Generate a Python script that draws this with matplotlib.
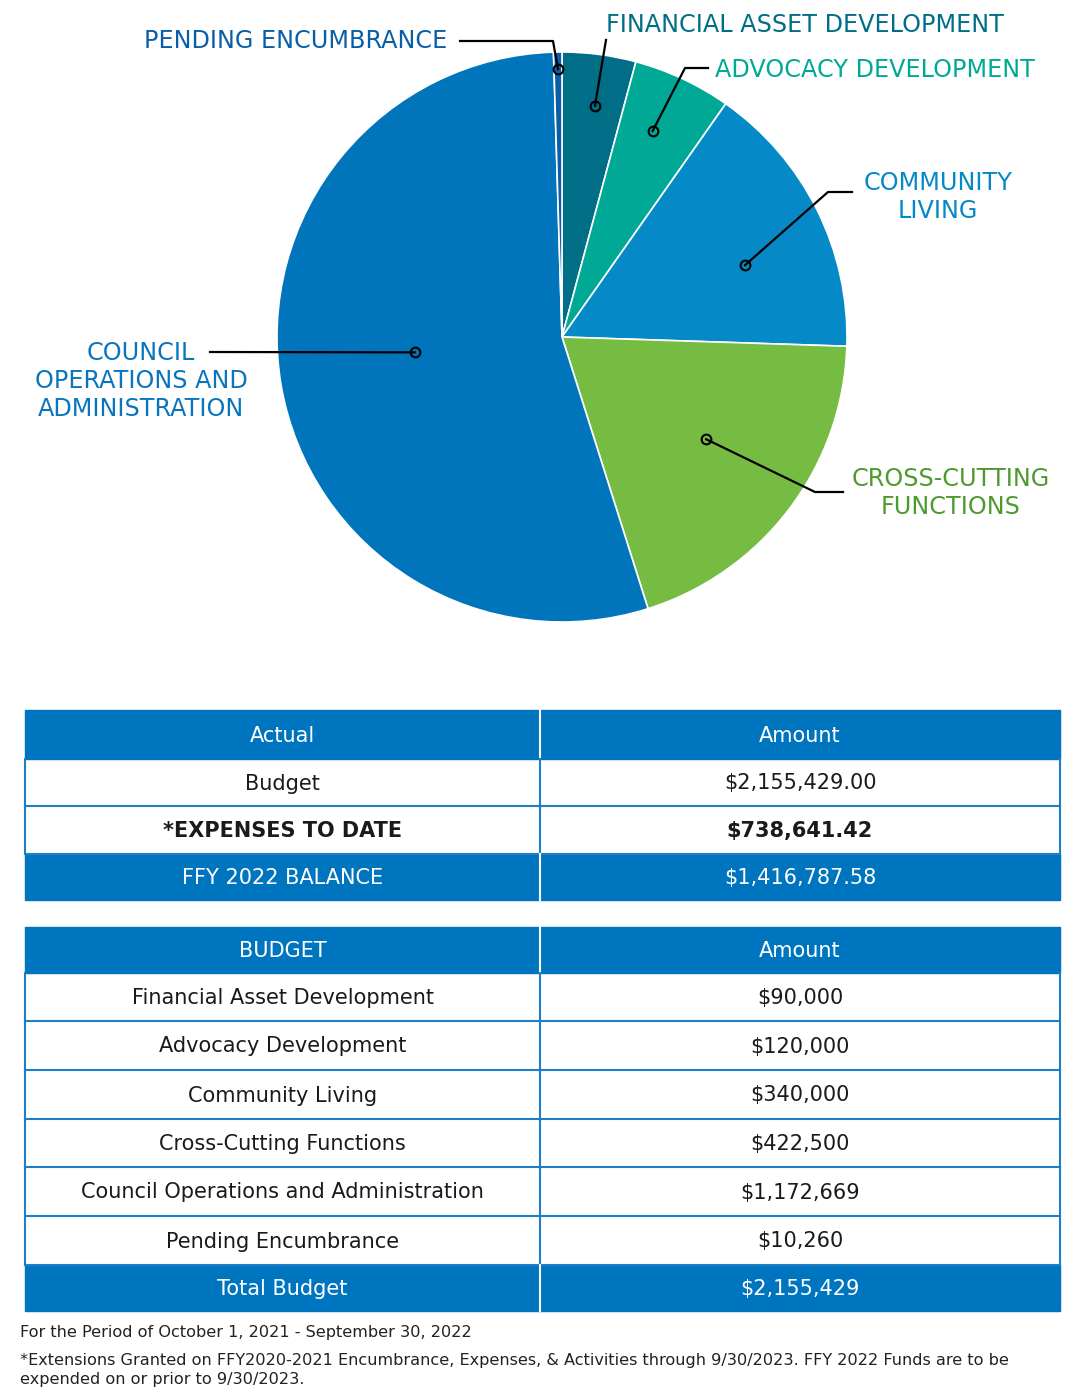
import numpy as np
import matplotlib.pyplot as plt
from matplotlib.patches import Rectangle

## data

categories = ['Financial Asset Development', 'Advocacy Development', 'Community Living',
              'Cross-Cutting Functions', 'Council Operations and Administration',
              'Pending Encumbrance']
amounts = [90000, 120000, 340000, 422500, 1172669, 10260]
slice_colors = ['#006e87', '#00a995', '#0589c7', '#76bc43', '#0075bc', '#0a5ea8']

pie_labels = ['FINANCIAL ASSET DEVELOPMENT', 'ADVOCACY DEVELOPMENT', 'COMMUNITY\nLIVING',
              'CROSS-CUTTING\nFUNCTIONS', 'COUNCIL\nOPERATIONS AND\nADMINISTRATION',
              'PENDING ENCUMBRANCE']
label_colors = ['#006e87', '#00a995', '#0588c8', '#4f9a2f', '#0a75bc', '#0a5ea8']

actual_rows = ['Budget', '*EXPENSES TO DATE', 'FFY 2022 BALANCE']
actual_vals = ['$2,155,429.00', '$738,641.42', '$1,416,787.58']
total_label = 'Total Budget'
total_value = '$2,155,429'

note1 = 'For the Period of October 1, 2021 - September 30, 2022'
note2 = ('*Extensions Granted on FFY2020-2021 Encumbrance, Expenses, & Activities through 9/30/2023. '
         'FFY 2022 Funds are to be\nexpended on or prior to 9/30/2023.')

## parameters

W, H = 1080, 1400
font = 'DejaVu Sans'
head_blue = '#0075bf'
line_blue = '#1f7fc6'

fig = plt.figure(figsize=(W / 100, H / 100), dpi=100)

## pie

cx, cy, R = 562, 337, 285
pax = fig.add_axes([(cx - R) / W, (H - cy - R) / H, 2 * R / W, 2 * R / H])
wedges, _ = pax.pie(amounts, colors=slice_colors, startangle=90, counterclock=False,
                    radius=1, wedgeprops=dict(edgecolor='white', linewidth=1.2))
pax.set_xlim(-1, 1)
pax.set_ylim(-1, 1)
pax.set_aspect('equal')
pax.axis('off')

# overlay axes in pixel coordinates
ax = fig.add_axes([0, 0, 1, 1])
ax.set_xlim(0, W)
ax.set_ylim(H, 0)
ax.axis('off')

# marker radius (fraction of R), angle shift from slice middle, leader path, label anchor
marker_r = [0.82, 0.79, 0.69, 0.62, 0.52, 0.94]
marker_shift = [-0.6, 1.3, -5.1, 1.8, -3.7, 0.0]
elbows = [[(606, 40)], [(685, 68), (708, 68)], [(828, 192), (852, 192)],
          [(815, 492), (843, 492)], [(210, 352)], [(553, 41), (460, 41)]]
label_pos = [(805, 25, 'center'), (715, 70, 'left'), (938, 197, 'center'),
             (951, 493, 'center'), (141, 381, 'center'), (447, 41, 'right')]

total = sum(amounts)
start = 90.0
for i, amt in enumerate(amounts):
    span = 360.0 * amt / total
    mid = np.radians(start - span / 2 + marker_shift[i])
    start -= span
    mx = cx + marker_r[i] * R * np.cos(mid)
    my = cy - marker_r[i] * R * np.sin(mid)
    xs = [mx] + [p[0] for p in elbows[i]]
    ys = [my] + [p[1] for p in elbows[i]]
    ax.plot(xs, ys, color='black', lw=1.6, zorder=5)
    ax.plot(mx, my, 'o', ms=7, mfc='none', mec='black', mew=1.5, zorder=6)
    lx, ly, ha = label_pos[i]
    ax.text(lx, ly, pie_labels[i], color=label_colors[i], fontsize=17.2, family=font,
            ha=ha, va='center', linespacing=1.19)

## tables

x0, xm, x1 = 25, 540, 1060


def draw_row(top, bot, left_txt, right_txt, filled, weight='normal'):
    if filled:
        ax.add_patch(Rectangle((x0, top), x1 - x0, bot - top, color=head_blue, zorder=2))
        ax.plot([xm, xm], [top, bot], color='white', lw=1.5, zorder=3)
        col = 'white'
    else:
        ax.plot([x0, x0], [top, bot], color=line_blue, lw=1.5, zorder=3)
        ax.plot([x1, x1], [top, bot], color=line_blue, lw=1.5, zorder=3)
        ax.plot([xm, xm], [top, bot], color=line_blue, lw=1.5, zorder=3)
        ax.plot([x0, x1], [bot, bot], color=line_blue, lw=1.5, zorder=3)
        col = '#1a1a1a'
    yc = (top + bot) / 2 + 1
    ax.text((x0 + xm) / 2, yc, left_txt, color=col, fontsize=15, family=font,
            ha='center', va='center', fontweight=weight)
    ax.text((xm + x1) / 2, yc, right_txt, color=col, fontsize=15, family=font,
            ha='center', va='center', fontweight=weight)


# actual table
t1 = [710, 759, 806, 854, 900]
draw_row(t1[0], t1[1], 'Actual', 'Amount', True)
draw_row(t1[1], t1[2], actual_rows[0], actual_vals[0], False)
draw_row(t1[2], t1[3], actual_rows[1], actual_vals[1], False, 'bold')
draw_row(t1[3], t1[4], actual_rows[2], actual_vals[2], True)

# budget table
t2 = [927, 973, 1021, 1070, 1119, 1167, 1216, 1265, 1311]
draw_row(t2[0], t2[1], 'BUDGET', 'Amount', True)
for i, name in enumerate(categories):
    draw_row(t2[i + 1], t2[i + 2], name, '${:,}'.format(amounts[i]), False)
draw_row(t2[7], t2[8], total_label, total_value, True)

## notes

ax.text(20, 1333, note1, fontsize=11.6, family=font, color='#222222', va='center')
ax.text(20, 1353, note2, fontsize=11.6, family=font, color='#222222', va='top',
        linespacing=1.3)

fig.savefig('out.png', dpi=100)
